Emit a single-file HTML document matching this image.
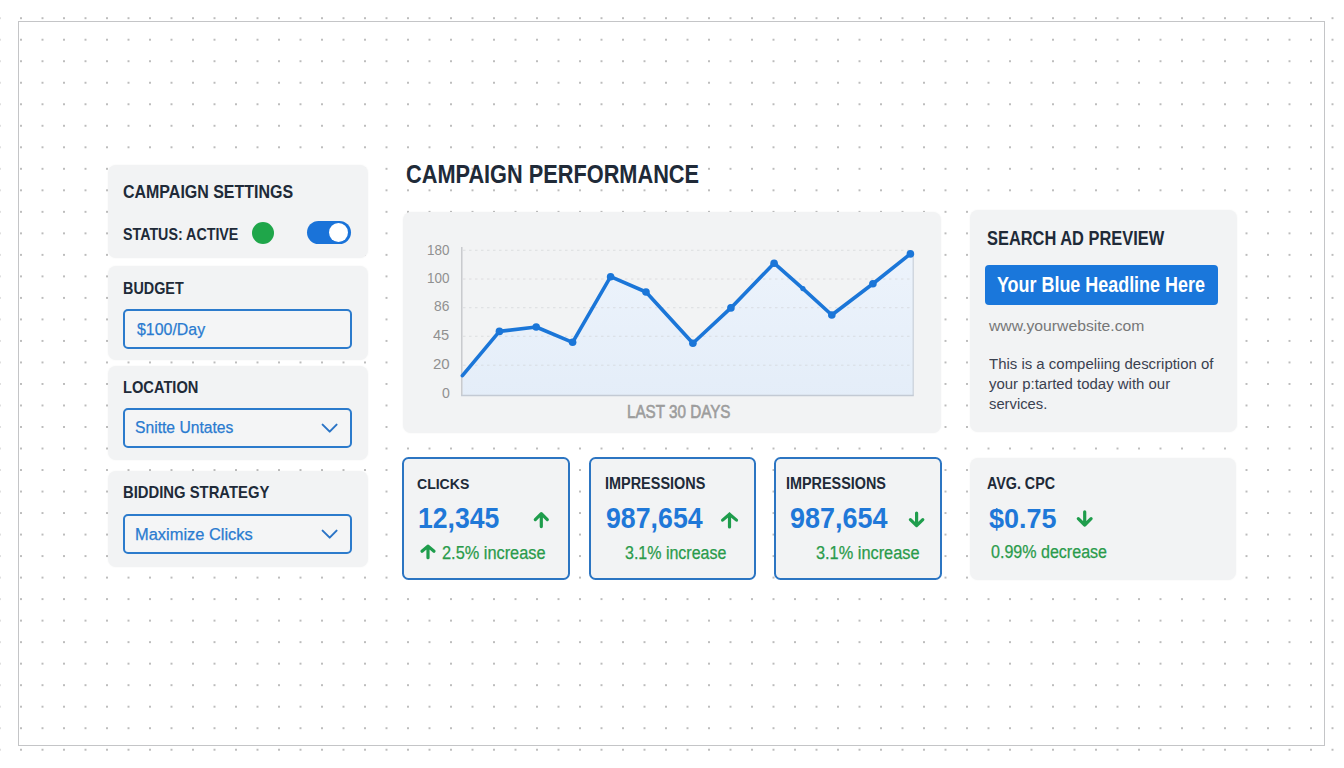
<!DOCTYPE html>
<html><head><meta charset="utf-8"><title>Campaign Dashboard</title>
<style>
*{margin:0;padding:0;box-sizing:border-box}
html,body{width:1344px;height:768px;overflow:hidden;background:#fff}
body{position:relative;font-family:"Liberation Sans",Arial,sans-serif;
 background-image:radial-gradient(circle,#bcbcbc 0.9px,rgba(255,255,255,0) 1.4px);
 background-size:21.515px 21.52px;background-position:10.25px 7.45px}
.frame{position:absolute;left:18px;top:21px;width:1307px;height:725px;border:1.5px solid #c4c5c7}
.card{position:absolute;background:#f2f3f4;border-radius:8px;box-shadow:0 0 2px rgba(0,0,0,0.05)}
.t{position:absolute;white-space:nowrap;line-height:1;transform-origin:0 0}
.r{-webkit-text-stroke-width:0.25px}
.r2{-webkit-text-stroke-width:0.6px}
.inp{position:absolute;border:2px solid #2c7bcc;border-radius:5px;background:#f4f5f6}
.mcard{position:absolute;background:#f2f3f4;border-radius:6.5px;border:2px solid #2c75c2}
svg{position:absolute;left:0;top:0}
</style></head><body>
<div class="frame"></div>

<div class="card" style="left:108px;top:165px;width:260px;height:92.8px"></div>
<div class="card" style="left:108px;top:266.3px;width:260px;height:93.4px"></div>
<div class="card" style="left:108px;top:366px;width:260px;height:94.2px"></div>
<div class="card" style="left:108px;top:471px;width:260px;height:96px"></div>

<div style="position:absolute;left:252px;top:222px;width:22px;height:22px;border-radius:50%;background:#1fa64a"></div>
<div style="position:absolute;left:307.3px;top:221px;width:43.6px;height:23.2px;border-radius:12px;background:#1a73d9"></div>
<div style="position:absolute;left:328.6px;top:222.8px;width:19.7px;height:19.7px;border-radius:50%;background:#fff"></div>

<div class="inp" style="left:122.6px;top:308.7px;width:229.2px;height:40px"></div>
<div class="inp" style="left:122.8px;top:407.5px;width:229.2px;height:40.2px"></div>
<div class="inp" style="left:122.8px;top:514px;width:229.2px;height:40px"></div>

<div class="card" style="left:403.3px;top:212.3px;width:537.8px;height:220.6px"></div>
<div class="card" style="left:970.4px;top:210.3px;width:266.2px;height:221.9px"></div>
<div style="position:absolute;left:985.2px;top:264.6px;width:232.5px;height:40.4px;border-radius:4px;background:#1a77db"></div>

<div class="mcard" style="left:402px;top:457.2px;width:168px;height:122.9px"></div>
<div class="mcard" style="left:588.8px;top:457.2px;width:167px;height:122.9px"></div>
<div class="mcard" style="left:774.4px;top:457.2px;width:168px;height:122.9px"></div>
<div class="card" style="left:970.3px;top:458.1px;width:266.2px;height:121.6px"></div>

<svg width="1344" height="768" viewBox="0 0 1344 768">
<defs>
<linearGradient id="ag" x1="0" y1="0" x2="0" y2="1">
<stop offset="0" stop-color="#ecf3fc"/><stop offset="1" stop-color="#e3edf9"/>
</linearGradient>
</defs>

<polygon fill="url(#ag)" fill-opacity="0.92" points="462.4,375.7 499.4,331.4 536.2,327 572.6,342.3 610.6,276.7 646,292 692.9,343.2 730.9,307.9 774.1,263.2 802.9,288.6 831.8,315 872.9,283.75 910.4,253.9 913.2,253.9 913.2,395.3 462.4,395.3"/>
<g stroke="#cfd1d4" stroke-opacity="0.6" stroke-width="1" stroke-dasharray="2.5 3.5" fill="none">
<line x1="463" y1="250.3" x2="913" y2="250.3"/>
<line x1="463" y1="279" x2="913" y2="279"/>
<line x1="463" y1="307.7" x2="913" y2="307.7"/>
<line x1="463" y1="336.3" x2="913" y2="336.3"/>
<line x1="463" y1="365.2" x2="913" y2="365.2"/>
</g>
<line x1="461.8" y1="247" x2="461.8" y2="396" stroke="#c2c4c7" stroke-width="1.3"/>
<line x1="913.2" y1="255" x2="913.2" y2="395.3" stroke="#c9d0da" stroke-width="1.2"/>
<line x1="461" y1="395.4" x2="913.8" y2="395.4" stroke="#c3cad4" stroke-width="1.5"/>
<polyline fill="none" stroke="#1b76d8" stroke-width="3.6" stroke-linejoin="round" stroke-linecap="round" points="462.4,375.7 499.4,331.4 536.2,327 572.6,342.3 610.6,276.7 646,292 692.9,343.2 730.9,307.9 774.1,263.2 802.9,288.6 831.8,315 872.9,283.75 910.4,253.9"/>
<g fill="#1b76d8">
<circle cx="499.4" cy="331.4" r="3.8"/><circle cx="536.2" cy="327" r="3.8"/><circle cx="572.6" cy="342.3" r="3.8"/>
<circle cx="610.6" cy="276.7" r="3.8"/><circle cx="646" cy="292" r="3.8"/><circle cx="692.9" cy="343.2" r="3.8"/>
<circle cx="730.9" cy="307.9" r="3.8"/><circle cx="774.1" cy="263.2" r="3.8"/><circle cx="802.9" cy="288.6" r="2.6"/>
<circle cx="831.8" cy="315" r="3.8"/><circle cx="872.9" cy="283.75" r="3.8"/><circle cx="910.4" cy="253.9" r="3.8"/>
</g>
<g fill="none" stroke="#2a74c6" stroke-width="2" stroke-linecap="round" stroke-linejoin="round">
<polyline points="322.6,424.6 329.7,431.6 336.6,424.6"/>
<polyline points="322.6,530.6 329.7,537.6 336.6,530.6"/>
</g>
<g fill="none" stroke="#1f9d4c" stroke-width="3.2" stroke-linecap="round" stroke-linejoin="round">
<path d="M535.3 519.6 L541.3 513.6 L547.3 519.6 M541.3 513.6 V526.6"/>
<path d="M722.6 520.1 L729.5 514.2 L736.5 520.1 M729.5 514.2 V526.9"/>
<path d="M422 551.3 L428 546.1 L434 551.3 M428 546.1 V557.7"/>
<path d="M910.4 519.6 L916.6 525.6 L922.8 519.6 M916.6 525.6 V513.1"/>
<path d="M1078.3 518.6 L1084.7 525 L1091.1 518.6 M1084.7 525 V511.8"/>
</g>
</svg>
<div class="t" style="left:123.16px;top:183.32px;font-size:18.55px;font-weight:700;color:#202a38;transform:scaleX(0.8619)">CAMPAIGN SETTINGS</div>
<div class="t" style="left:122.77px;top:226.28px;font-size:16.23px;font-weight:700;color:#202a38;transform:scaleX(0.8790)">STATUS: ACTIVE</div>
<div class="t" style="left:122.57px;top:280.73px;font-size:15.94px;font-weight:700;color:#202a38;transform:scaleX(0.9019)">BUDGET</div>
<div class="t r" style="left:136.84px;top:321.99px;font-size:16.81px;font-weight:400;color:#2a7bd0;transform:scaleX(0.9470)">$100/Day</div>
<div class="t" style="left:122.55px;top:379.63px;font-size:15.94px;font-weight:700;color:#202a38;transform:scaleX(0.9193)">LOCATION</div>
<div class="t r" style="left:135.20px;top:419.93px;font-size:15.94px;font-weight:400;color:#2a7bd0;transform:scaleX(0.9824)">Snitte Untates</div>
<div class="t" style="left:123.24px;top:483.96px;font-size:16.38px;font-weight:700;color:#202a38;transform:scaleX(0.9063)">BIDDING STRATEGY</div>
<div class="t r" style="left:134.88px;top:526.01px;font-size:16.09px;font-weight:400;color:#2a7bd0;transform:scaleX(1.0219)">Maximize Clicks</div>
<div class="t" style="left:405.63px;top:161.51px;font-size:25.07px;font-weight:700;color:#202a38;transform:scaleX(0.8673)">CAMPAIGN PERFORMANCE</div>
<div class="t" style="left:426.99px;top:242.81px;font-size:14.43px;font-weight:400;color:#909090;transform:scaleX(0.9315)">180</div>
<div class="t" style="left:426.99px;top:270.95px;font-size:14.14px;font-weight:400;color:#909090;transform:scaleX(0.9549)">100</div>
<div class="t" style="left:434.18px;top:299.49px;font-size:14.57px;font-weight:400;color:#909090;transform:scaleX(0.9507)">86</div>
<div class="t" style="left:433.39px;top:328.49px;font-size:14.57px;font-weight:400;color:#909090;transform:scaleX(1.0015)">45</div>
<div class="t" style="left:433.25px;top:357.38px;font-size:14.64px;font-weight:400;color:#909090;transform:scaleX(1.0261)">20</div>
<div class="t" style="left:441.74px;top:385.93px;font-size:14.29px;font-weight:400;color:#909090;transform:scaleX(0.9874)">0</div>
<div class="t r2" style="left:627.28px;top:404.36px;font-size:17.68px;font-weight:400;color:#9c9c9c;transform:scaleX(0.8609)">LAST 30 DAYS</div>
<div class="t" style="left:986.91px;top:229.44px;font-size:19.71px;font-weight:700;color:#202a38;transform:scaleX(0.8333)">SEARCH AD PREVIEW</div>
<div class="t" style="left:997.34px;top:274.35px;font-size:21.59px;font-weight:700;color:#ffffff;transform:scaleX(0.8307)">Your Blue Headline Here</div>
<div class="t" style="left:988.90px;top:318.35px;font-size:15.45px;font-weight:400;color:#767778;transform:scaleX(1.0173)">www.yourwebsite.com</div>
<div class="t" style="left:988.93px;top:356.34px;font-size:15.22px;font-weight:400;color:#3a4150;transform:scaleX(0.9828)">This is a compeliing description of</div>
<div class="t" style="left:989.23px;top:376.24px;font-size:15.22px;font-weight:400;color:#3a4150;transform:scaleX(0.9823)">your p:tarted today with our</div>
<div class="t" style="left:988.56px;top:395.74px;font-size:15.22px;font-weight:400;color:#3a4150;transform:scaleX(0.9707)">services.</div>
<div class="t" style="left:417.24px;top:476.32px;font-size:15.36px;font-weight:700;color:#202a38;transform:scaleX(0.9144)">CLICKS</div>
<div class="t" style="left:605.26px;top:475.95px;font-size:15.80px;font-weight:700;color:#202a38;transform:scaleX(0.9144)">IMPRESSIONS</div>
<div class="t" style="left:785.76px;top:475.95px;font-size:15.80px;font-weight:700;color:#202a38;transform:scaleX(0.9107)">IMPRESSIONS</div>
<div class="t" style="left:986.54px;top:474.81px;font-size:16.09px;font-weight:700;color:#202a38;transform:scaleX(0.8892)">AVG. CPC</div>
<div class="t" style="left:418.07px;top:504.36px;font-size:28.57px;font-weight:700;color:#1f78d8;transform:scaleX(0.9314)">12,345</div>
<div class="t" style="left:605.96px;top:504.36px;font-size:28.57px;font-weight:700;color:#1f78d8;transform:scaleX(0.9359)">987,654</div>
<div class="t" style="left:789.56px;top:504.36px;font-size:28.57px;font-weight:700;color:#1f78d8;transform:scaleX(0.9438)">987,654</div>
<div class="t" style="left:989.20px;top:504.70px;font-size:27.93px;font-weight:700;color:#1f78d8;transform:scaleX(0.9665)">$0.75</div>
<div class="t r" style="left:442.18px;top:544.75px;font-size:17.57px;font-weight:400;color:#2a9b4b;transform:scaleX(0.9304)">2.5% increase</div>
<div class="t r" style="left:625.06px;top:544.75px;font-size:17.57px;font-weight:400;color:#2a9b4b;transform:scaleX(0.9108)">3.1% increase</div>
<div class="t r" style="left:815.85px;top:544.75px;font-size:17.57px;font-weight:400;color:#2a9b4b;transform:scaleX(0.9299)">3.1% increase</div>
<div class="t r" style="left:990.86px;top:543.65px;font-size:17.57px;font-weight:400;color:#2a9b4b;transform:scaleX(0.9140)">0.99% decrease</div>
</body></html>
